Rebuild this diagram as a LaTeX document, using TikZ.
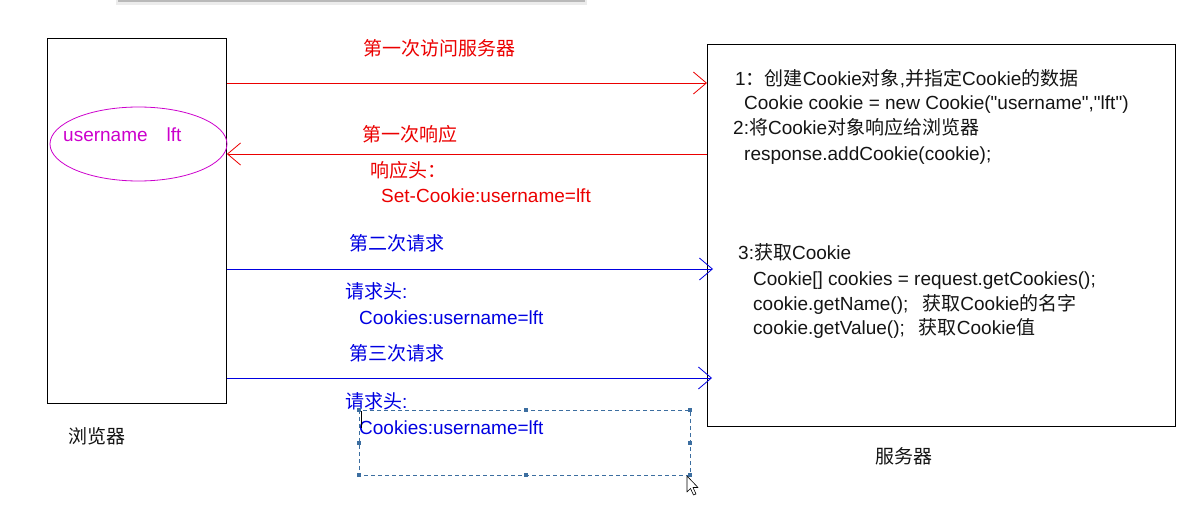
\documentclass[tikz,border=0pt]{standalone}
\usepackage{fontspec}
\setmainfont{Liberation Sans}
\newfontfamily\cjk{Noto Sans CJK SC}
\newfontfamily\qfont{Liberation Sans}
\usetikzlibrary{arrows.meta,shapes.geometric}
\newcommand\zh[1]{{\cjk #1}}
\newcommand\dq{{\qfont\char34\relax}}
\definecolor{myred}{RGB}{235,0,0}
\definecolor{myblue}{RGB}{0,0,225}
\definecolor{mymag}{RGB}{204,0,204}
\definecolor{selblue}{RGB}{60,110,160}
\definecolor{txt}{RGB}{20,20,20}
\begin{document}
\begin{tikzpicture}[x=1pt,y=-1pt,
  font=\fontsize{19}{23}\selectfont,
  box/.style={draw=black, line width=0.9pt, inner sep=0, anchor=north west},
  lbl/.style={anchor=base west, inner sep=0, text=txt},
  msg/.style={line width=0.9pt, -{Straight Barb[length=13pt,width=22pt,line width=0.8pt]}},
  handle/.style={fill=selblue, inner sep=0, minimum size=3.5pt}
]
\useasboundingbox (0,0) rectangle (1203,527);
% window artefact at top
\fill[gray!15] (116,0) rectangle (587,5);
\fill[gray!55] (118,0) rectangle (585,2.5);

% boxes
\node[box, minimum width=179pt, minimum height=365pt] (browser) at (47,38) {};
\node[box, minimum width=468pt, minimum height=382pt] (server) at (707,44) {};
\node[lbl] (blabel) at (68,443) {\zh{浏览器}};
\node[lbl] (slabel) at (875,463) {\zh{服务器}};

% cookie ellipse
\node[ellipse, draw=mymag, line width=0.8pt, minimum width=177pt, minimum height=74pt, inner sep=0] (cookie) at (138.5,144) {};
\node[lbl, text=mymag] (ctext) at (63,142) {username\hspace{19pt}lft};

% messages
\draw[msg, myred] (browser.east |- 0,83) -- (server.west |- 0,83);
\draw[msg, myred] (server.west |- 0,154) -- (browser.east |- 0,154);
\draw[msg, myblue, shorten >=-6pt] (browser.east |- 0,269) -- (server.west |- 0,269);
\draw[msg, myblue, shorten >=-5pt] (browser.east |- 0,378) -- (server.west |- 0,378);

% red labels
\node[lbl, text=myred] (m1) at (363,56) {\zh{第一次访问服务器}};
\node[lbl, text=myred] (m2) at (362,142) {\zh{第一次响应}};
\node[lbl, text=myred] (m2h) at (370,177) {\zh{响应头：}};
\node[lbl, text=myred] (m2v) at (381,202) {Set-Cookie:username=lft};

% blue labels
\node[lbl, text=myblue] (m3) at (349,250) {\zh{第二次请求}};
\node[lbl, text=myblue] (m3h) at (345,298) {\zh{请求头}:};
\node[lbl, text=myblue] (m3v) at (359,324) {Cookies:username=lft};
\node[lbl, text=myblue] (m4) at (349,360) {\zh{第三次请求}};
\node[lbl, text=myblue] (m4h) at (345,408) {\zh{请求头}:};
\node[lbl, text=myblue] (m4v) at (359,434) {Cookies:username=lft};

% server text
\node[lbl] (s1) at (735,85) {1\zh{：创建}Cookie\zh{对象},\zh{并指定}Cookie\zh{的数据}};
\node[lbl] (s2) at (744,110) {Cookie cookie = new Cookie(\dq username\dq,\dq lft\dq)};
\node[lbl] (s3) at (733,135) {2:\zh{将}Cookie\zh{对象响应给浏览器}};
\node[lbl] (s4) at (744,160) {response.addCookie(cookie);};
\node[lbl] (s5) at (738,259) {3:\zh{获取}Cookie};
\node[lbl] (s6) at (753,285) {Cookie[] cookies = request.getCookies();};
\node[lbl] (s7) at (753,310) {cookie.getName();\hspace{14pt}\zh{获取}Cookie\zh{的名字}};
\node[lbl] (s8) at (753,334) {cookie.getValue();\hspace{14pt}\zh{获取}Cookie\zh{值}};

% selection frame around the edited text
\draw[selblue, line width=0.8pt, dash pattern=on 4pt off 3pt] (359,410) rectangle (690,475);
\foreach \p/\n in {{359,410}/h1,{526,410}/h2,{690,410}/h3,{359,443}/h4,{690,443}/h5,{359,475}/h6,{526,475}/h7,{690,475}/h8}
  \node[handle] (\n) at (\p) {};
\draw[black, line width=0.8pt] (361,411) -- (361,428);

% mouse pointer
\filldraw[fill=white, draw=black, line width=0.6pt, line join=round]
  (687,476) -- (687,492) -- (690.5,488.5) -- (693.5,495) -- (696,494) -- (693,487.5) -- (698,487.5) -- cycle;
\end{tikzpicture}
\end{document}
